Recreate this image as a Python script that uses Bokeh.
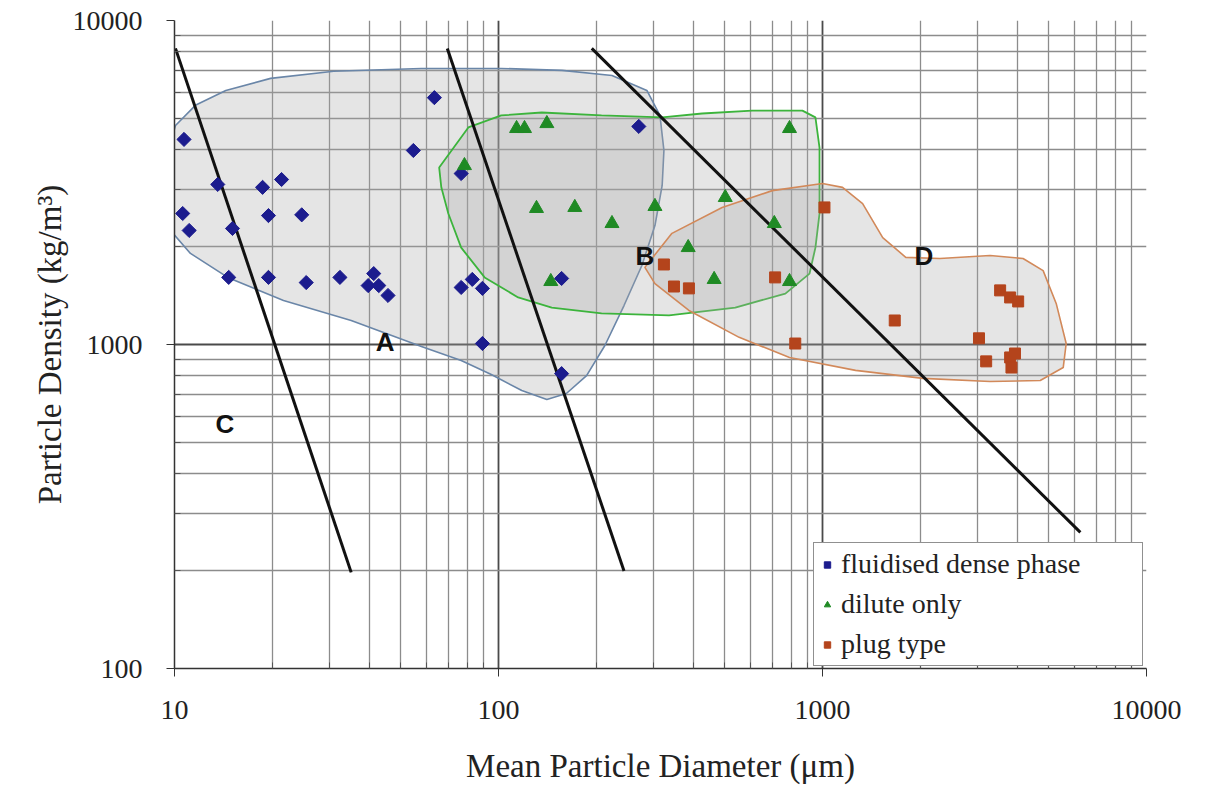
import math
from bokeh.plotting import figure
from bokeh.models import (FixedTicker, PrintfTickFormatter, Legend, LegendItem,
                          Range1d)
from bokeh.embed import file_html
from bokeh.resources import INLINE
from bokeh.core.properties import value

# ---------------- data ----------------
dense_diam = [10.7, 10.6, 11.1, 13.6, 15.1, 14.7, 18.7, 19.5, 21.4, 19.5, 24.7, 25.5,
              32.4, 41.2, 39.6, 42.7, 45.6, 54.6, 63.4, 76.7, 76.7, 83.0, 89.2, 89.2,
              156.6, 156.6, 271]
dense_dens = [4295, 2537, 2249, 3119, 2281, 1611, 3055, 2500, 3230, 1611, 2513, 1553,
              1611, 1655, 1520, 1520, 1417, 3970, 5780, 3370, 1500, 1588, 1490, 1007,
              1599, 813, 4710]

dilute_diam = [113.7, 120.3, 141, 791, 78.5, 131, 172, 224, 304, 501, 710, 385, 463, 791, 145]
dilute_dens = [4642, 4642, 4808, 4642, 3567, 2630, 2649, 2363, 2668, 2843, 2363, 1992,
               1588, 1565, 1565]

plug_diam = [324, 348, 387, 714, 824, 1014, 1671, 3041, 3200, 3534, 3794, 4017, 3794, 3927, 3830]
plug_dens = [1766, 1510, 1490, 1611, 1007, 2649, 1186, 1045, 887, 1469, 1397, 1358, 912, 938, 849]

# boundary lines
line_c_diam = [10.07, 35.1]
line_c_dens = [8204, 198]
line_ab_diam = [69.5, 244]
line_ab_dens = [8200, 200]
line_bd_diam = [194, 6250]
line_bd_dens = [8200, 263]

# group regions (outline vertices)
region_a_diam = [9.18, 9.38, 10.07, 11.6, 14.4, 19.8, 31.0, 57.8, 102, 157, 224, 287, 315,
                 324, 320, 304, 277, 244, 213, 187, 162, 141, 118, 95, 76.7, 57.8, 35.1,
                 21.7, 14.6, 11.2, 9.72]
region_a_dens = [2985, 3698, 4742, 5472, 6082, 6627, 6970, 7112, 7112, 7015, 6761, 6082, 5093,
                 3972, 3096, 2329, 1753, 1319, 993, 802, 706, 676, 721, 808, 893, 986, 1186,
                 1367, 1611, 1910, 2249]

region_b_diam = [65.6, 80.7, 102, 136, 208, 320, 425, 607, 867, 951, 979, 979, 951, 912, 768,
                 538, 336, 208, 146, 115, 90.6, 76.7, 70.0, 66.6]
region_b_dens = [3516, 4677, 5093, 5200, 5093, 5023, 5164, 5272, 5272, 5023, 4055, 2537, 1991,
                 1655, 1436, 1300, 1230, 1248, 1300, 1397, 1611, 1991, 2537, 3055]

region_d_diam = [283, 343, 490, 700, 1000, 1153, 1330, 1534, 1807, 2303, 3289, 4159, 4797,
                 5263, 5651, 5533, 4699, 3289, 2042, 1265, 791, 553, 387, 304]
region_d_dens = [1730, 2203, 2649, 2985, 3139, 3055, 2723, 2138, 1858, 1843, 1883, 1843, 1691,
                 1339, 1007, 849, 774, 769, 786, 832, 912, 1052, 1274, 1542]

region_text = ["A", "B", "C", "D"]
region_text_diam = [44.7, 283, 14.3, 2056]
region_text_dens = [1021, 1871, 570, 1871]

x_ticks = [10, 100, 1000, 10000]
y_ticks = [100, 1000, 10000]

# ---------------- figure ----------------
x_minor = [m * d for d in (10, 100, 1000) for m in range(2, 10)]
y_minor = [m * d for d in (100, 1000) for m in range(2, 10)]

p = figure(x_axis_type="log", y_axis_type="log",
           x_range=Range1d(10, 10000), y_range=Range1d(100, 10000),
           frame_width=972, frame_height=648,
           min_border_left=174, min_border_right=40, min_border_top=20, min_border_bottom=100,
           output_backend="svg", toolbar_location=None)
p.outline_line_color = None
p.background_fill_color = "white"

GRID_MAJOR = "#4a4a4a"
GRID_MINOR = "#8c8c8c"
for ax, ticks, minor in ((p.xaxis[0], x_ticks, x_minor), (p.yaxis[0], y_ticks, y_minor)):
    ax.ticker = FixedTicker(ticks=ticks, minor_ticks=minor)
    ax.formatter = PrintfTickFormatter(format="%d")
    ax.axis_line_color = "#333333"
    ax.axis_line_width = 1.5
    ax.major_tick_out = 8
    ax.major_tick_in = 0
    ax.minor_tick_in = 6
    ax.minor_tick_out = 0
    ax.major_tick_line_color = "#333333"
    ax.minor_tick_line_color = "#555555"
    ax.major_label_text_font = "Liberation Serif"
    ax.major_label_text_font_size = "28px"
    ax.major_label_text_color = "#222222"
    ax.axis_label_text_font = "Liberation Serif"
    ax.axis_label_text_font_size = "33px"
    ax.axis_label_text_font_style = "normal"
    ax.axis_label_text_color = "#222222"

p.xaxis.axis_label = "Mean Particle Diameter (\u03bcm)"
p.yaxis.axis_label = "Particle Density (kg/m\u00b3)"
p.xaxis.major_label_standoff = 24
p.xaxis.axis_label_standoff = 26
p.yaxis.major_label_standoff = 24
p.yaxis.axis_label_standoff = 2

for g in (p.xgrid[0], p.ygrid[0]):
    g.grid_line_color = GRID_MAJOR
    g.grid_line_width = 1.8
    g.minor_grid_line_color = GRID_MINOR
    g.minor_grid_line_width = 1.3

# regions
p.patch(region_a_diam, region_a_dens, fill_color="#a8a8a8", fill_alpha=0.3,
        line_color="#6a86a8", line_width=1.6)
p.patch(region_b_diam, region_b_dens, fill_color="#a8a8a8", fill_alpha=0.3,
        line_color="#3cb43c", line_width=1.8)
p.patch(region_d_diam, region_d_dens, fill_color="#a8a8a8", fill_alpha=0.3,
        line_color="#d2895a", line_width=1.6)

# boundary lines
for lx, ly in ((line_c_diam, line_c_dens), (line_ab_diam, line_ab_dens), (line_bd_diam, line_bd_dens)):
    p.line(lx, ly, line_color="#111111", line_width=3)

# points
r_dense = p.scatter(dense_diam, dense_dens, marker="square", angle=math.pi / 4, size=10,
                    fill_color="#1c1c8e", line_color="#1c1c8e")
r_dilute = p.scatter(dilute_diam, dilute_dens, marker="triangle", size=14,
                     fill_color="#1f8a24", line_color="#1f8a24")
r_plug = p.scatter(plug_diam, plug_dens, marker="square", size=11,
                   fill_color="#b4441c", line_color="#b4441c")

# region letters
p.text(region_text_diam, region_text_dens, text=region_text,
       text_font=value("Liberation Sans"), text_font_style="bold",
       text_font_size="26px", text_align="center", text_baseline="middle",
       text_color="#111111")

legend = Legend(items=[LegendItem(label="fluidised dense phase", renderers=[r_dense]),
                       LegendItem(label="dilute only", renderers=[r_dilute]),
                       LegendItem(label="plug type", renderers=[r_plug])],
                location=(639, 2))
legend.label_text_font = "Liberation Serif"
legend.label_text_font_size = "28px"
legend.label_text_color = "#222222"
legend.border_line_color = "#222222"
legend.border_line_width = 1.5
legend.background_fill_color = "white"
legend.background_fill_alpha = 1.0
legend.glyph_width = 16
legend.glyph_height = 27
legend.label_height = 27
legend.label_width = 296
legend.label_standoff = 6
legend.spacing = 8
legend.padding = 5
legend.margin = 0
p.add_layout(legend)

open("out.html", "w").write(file_html(p, INLINE))
